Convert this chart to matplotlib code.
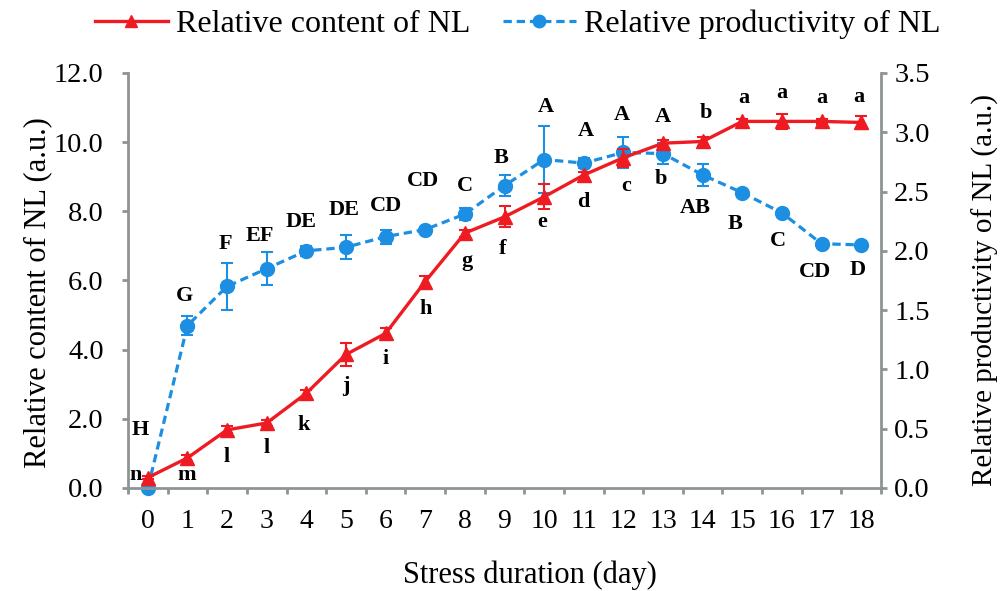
import numpy as np
import matplotlib
matplotlib.use("Agg")
import matplotlib.pyplot as plt
from matplotlib.lines import Line2D
from matplotlib.ticker import FormatStrFormatter

plt.rcParams['font.family'] = ['Liberation Serif', 'DejaVu Serif']
plt.rcParams['lines.scale_dashes'] = False

# Stress duration (days)
days = list(range(19))

# Relative content of NL (left axis)
content = [0.30, 0.87, 1.68, 1.88, 2.74, 3.86, 4.47, 5.97, 7.37, 7.84, 8.42,
           9.05, 9.55, 9.97, 10.02, 10.60, 10.60, 10.60, 10.57]
content_err = [0.05, 0.08, 0.10, 0.10, 0.10, 0.34, 0.17, 0.15, 0.10, 0.30, 0.36,
               0.08, 0.26, 0.10, 0.12, 0.08, 0.22, 0.08, 0.18]
content_groups = ['n', 'm', 'l', 'l', 'k', 'j', 'i', 'h', 'g', 'f', 'e',
                  'd', 'c', 'b', 'b', 'a', 'a', 'a', 'a']

# Relative productivity of NL (right axis)
productivity = [0.00, 1.37, 1.70, 1.85, 2.00, 2.03, 2.12, 2.18, 2.31, 2.55, 2.77,
                2.74, 2.83, 2.82, 2.64, 2.49, 2.32, 2.06, 2.05]
productivity_err = [0.00, 0.08, 0.20, 0.14, 0.04, 0.10, 0.06, 0.00, 0.05, 0.09, 0.28,
                    0.04, 0.13, 0.09, 0.09, 0.00, 0.00, 0.00, 0.00]
productivity_groups = ['H', 'G', 'F', 'EF', 'DE', 'DE', 'CD', 'CD', 'C', 'B', 'A',
                       'A', 'A', 'A', 'AB', 'B', 'C', 'CD', 'D']

# Placement of the significance letters relative to each marker (pixels: right, up)
content_label_offsets = [(-12, 3), (-1, -17), (0, -27), (0, -25), (-3, -32), (0, -32),
                         (0, -26), (0, -27), (2, -28), (-2, -32), (-2, -25), (0, -27),
                         (3, -28), (-2, -36), (3, 28), (2, 23), (0, 28), (0, 23), (-2, 25)]
productivity_label_offsets = [(-8, 58), (-3, 30), (-2, 42), (-7, 33), (-5, 29), (-2, 37),
                              (0, 31), (-2, 49), (0, 28), (-3, 28), (2, 53), (2, 32),
                              (-2, 37), (0, 37), (-7, -33), (-7, -31), (-4, -28),
                              (-7, -28), (-4, -25)]

RED = '#EE1C22'
BLUE = '#1C8FE2'
GREY = '#8E9494'

fig = plt.figure(figsize=(10.07, 5.91), dpi=100)
ax = fig.add_axes([0.1271, 0.1743, 0.7478, 0.7022])
ax2 = ax.twinx()

# productivity series (secondary axis)
ax2.errorbar(days, productivity, yerr=productivity_err, fmt='none', ecolor=BLUE,
             elinewidth=1.5, capsize=4.5, capthick=1.5, clip_on=False)
ax2.plot(days, productivity, color=BLUE, lw=2.3, dashes=(6, 3.5), marker='o', ms=10,
         clip_on=False)

# content series (primary axis, drawn above)
ax.errorbar(days, content, yerr=content_err, fmt='none', ecolor=RED,
            elinewidth=1.5, capsize=4.5, capthick=1.5, clip_on=False)
ax.plot(days, content, color=RED, lw=2.4, marker='^', ms=10.5, clip_on=False)
ax.set_zorder(ax2.get_zorder() + 1)
ax.patch.set_visible(False)

for d, v, g, (dx, dy) in zip(days, content, content_groups, content_label_offsets):
    ax.annotate(g, (d, v), xytext=(dx, dy), textcoords='offset pixels',
                ha='center', va='center', fontsize=16, fontweight='bold')
for d, v, g, (dx, dy) in zip(days, productivity, productivity_groups,
                             productivity_label_offsets):
    ax2.annotate(g, (d, v), xytext=(dx, dy), textcoords='offset pixels',
                 ha='center', va='center', fontsize=16, fontweight='bold')

# axes and ticks
ax.set_xlim(-0.5, len(days) - 0.5)
ax.set_xticks(days)
ax.set_xticks(np.arange(len(days) + 1) - 0.5, minor=True)
ax.tick_params(axis='x', which='major', length=0, pad=15, labelsize=20)
ax.tick_params(axis='x', which='minor', length=4.5, width=2, color=GREY, direction='out')

ax.set_ylim(0, 12)
ax.set_yticks(np.arange(0, 12.1, 2))
ax.yaxis.set_major_formatter(FormatStrFormatter('%.1f'))
ax.tick_params(axis='y', length=4.5, width=2, color=GREY, pad=13, labelsize=20.5)

ax2.set_ylim(0, 3.5)
ax2.set_yticks(np.arange(0, 3.51, 0.5))
ax2.yaxis.set_major_formatter(FormatStrFormatter('%.1f'))
ax2.tick_params(axis='y', length=4.5, width=2, color=GREY, pad=5, labelsize=20.5)

for s in ['top', 'right']:
    ax.spines[s].set_visible(False)
for s in ['top', 'left', 'bottom']:
    ax2.spines[s].set_visible(False)
for s in ['left', 'bottom']:
    ax.spines[s].set_color(GREY)
    ax.spines[s].set_linewidth(2)
ax2.spines['right'].set_color(GREY)
ax2.spines['right'].set_linewidth(2)

ax.set_xlabel('Stress duration (day)', fontsize=22, va='center')
ax.xaxis.set_label_coords(0.534, -0.21)
ax.set_ylabel('Relative content of NL (a.u.)', fontsize=22, va='center', ha='center')
ax.yaxis.set_label_coords(-0.12, 0.47)
ax2.set_ylabel('Relative productivity of NL (a.u.)', fontsize=21, va='center', ha='center')
ax2.yaxis.set_label_coords(1.138, 0.477)

handles = [Line2D([], [], color=RED, lw=2.4, marker='^', ms=9),
           Line2D([], [], color=BLUE, lw=2.3, dashes=(6, 3.5), marker='o', ms=9)]
fig.legend(handles, ['Relative content of NL', 'Relative productivity of NL'],
           loc='center', bbox_to_anchor=(0.514, 0.959), ncol=2, frameon=False,
           fontsize=23, handlelength=2.3, handletextpad=0.25, columnspacing=1.0)

fig.savefig('out.png', dpi=100)
